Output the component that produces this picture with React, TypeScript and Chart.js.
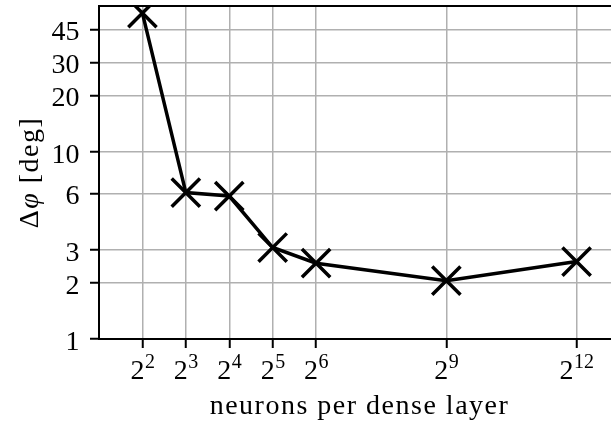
import { useEffect, useRef } from 'react';
import { Chart, registerables } from 'chart.js';

Chart.register(...registerables);

// Phase error versus width of the dense layers
const neurons = [4, 8, 16, 32, 64, 512, 4096];
const phaseErrorDeg = [55, 6.05, 5.8, 3.08, 2.54, 2.05, 2.59];

// Axis ticks
const xTickExponents = [2, 3, 4, 5, 6, 9, 12];
const yTickValues = [1, 2, 3, 6, 10, 20, 30, 45];

const xTitle = 'neurons per dense layer';
const yTitleParts = [
  { text: 'Δ', italic: false },
  { text: 'φ', italic: true },
  { text: ' [deg]', italic: false },
];

const FAMILY = '"Liberation Serif", "Times New Roman", serif';
const TICK_SIZE = 28;
const SUP_SIZE = 20;
const SPACING = '1.5px';

const axisText = {
  id: 'axisText',
  afterDraw(chart: any) {
    const { ctx, chartArea: a, scales } = chart;
    const xs = scales.x;
    const ys = scales.y;
    ctx.save();

    // top spine
    ctx.strokeStyle = '#000';
    ctx.lineWidth = 2;
    ctx.beginPath();
    ctx.moveTo(a.left - 1, a.top);
    ctx.lineTo(a.right, a.top);
    ctx.stroke();

    ctx.fillStyle = '#000';
    ctx.textBaseline = 'alphabetic';

    // y tick labels
    ctx.font = `${TICK_SIZE}px ${FAMILY}`;
    ctx.textAlign = 'right';
    yTickValues.forEach((v) => {
      const py = ys.getPixelForValue(v);
      ctx.fillText(String(v), a.left - 19.5, py + 11);
    });

    // x tick labels as powers of two
    ctx.textAlign = 'left';
    xTickExponents.forEach((e) => {
      const px = xs.getPixelForValue(2 ** e);
      ctx.font = `${TICK_SIZE}px ${FAMILY}`;
      const bw = ctx.measureText('2').width;
      ctx.font = `${SUP_SIZE}px ${FAMILY}`;
      const ew = ctx.measureText(String(e)).width;
      const left = px - (bw + ew) / 2;
      ctx.font = `${TICK_SIZE}px ${FAMILY}`;
      ctx.fillText('2', left, a.bottom + 39.5);
      ctx.font = `${SUP_SIZE}px ${FAMILY}`;
      ctx.fillText(String(e), left + bw + 0.5, a.bottom + 29);
    });

    // x axis title
    ctx.font = `${TICK_SIZE}px ${FAMILY}`;
    (ctx as any).letterSpacing = SPACING;
    ctx.textAlign = 'center';
    ctx.fillText(xTitle, (a.left + a.right) / 2, a.bottom + 75);

    // y axis title, rotated
    ctx.translate(37.5, (a.top + a.bottom) / 2);
    ctx.rotate(-Math.PI / 2);
    ctx.textAlign = 'left';
    const fontFor = (it: boolean) => `${it ? 'italic ' : ''}${TICK_SIZE}px ${FAMILY}`;
    const widths = yTitleParts.map((p) => {
      ctx.font = fontFor(p.italic);
      return ctx.measureText(p.text).width;
    });
    let x = -widths.reduce((s, w) => s + w, 0) / 2;
    yTitleParts.forEach((p, i) => {
      ctx.font = fontFor(p.italic);
      ctx.fillText(p.text, x, 0);
      x += widths[i];
    });

    ctx.restore();
  },
};

export default function App() {
  const canvasRef = useRef<HTMLCanvasElement | null>(null);

  useEffect(() => {
    const canvas = canvasRef.current;
    if (!canvas) return;
    const grid = {
      color: '#b0b0b0',
      lineWidth: 1.5,
      tickColor: '#000',
      tickLength: 9,
      tickWidth: 2,
    };
    const chart = new Chart(canvas, {
      type: 'line',
      data: {
        datasets: [
          {
            data: neurons.map((n, i) => ({ x: n, y: phaseErrorDeg[i] })),
            borderColor: '#000',
            backgroundColor: '#000',
            borderWidth: 3.5,
            pointStyle: 'crossRot',
            pointRadius: 20,
            pointBorderWidth: 3.5,
            pointBorderColor: '#000',
            tension: 0,
            clip: 0,
          } as any,
        ],
      },
      options: {
        responsive: false,
        animation: false,
        layout: { autoPadding: false, padding: { top: 6, right: 0, bottom: 0, left: 0 } },
        plugins: {
          legend: { display: false },
          tooltip: { enabled: false },
        },
        scales: {
          x: {
            type: 'logarithmic',
            min: 2,
            max: 8192,
            afterBuildTicks: (s: any) => {
              s.ticks = xTickExponents.map((e) => ({ value: 2 ** e }));
            },
            afterFit: (s: any) => {
              s.height = 83;
            },
            ticks: { display: false },
            grid,
            border: { color: '#000', width: 2 },
          },
          y: {
            type: 'logarithmic',
            min: 1,
            max: 60,
            afterBuildTicks: (s: any) => {
              s.ticks = yTickValues.map((v) => ({ value: v }));
            },
            afterFit: (s: any) => {
              s.width = 99;
            },
            ticks: { display: false },
            grid,
            border: { color: '#000', width: 2 },
          },
        },
      } as any,
      plugins: [axisText],
    });
    return () => chart.destroy();
  }, []);

  return (
    <div
      style={{
        position: 'fixed',
        left: 0,
        top: 0,
        width: 611,
        height: 422,
        overflow: 'hidden',
        background: '#fff',
      }}
    >
      <canvas ref={canvasRef} width={620} height={422} style={{ display: 'block' }} />
    </div>
  );
}
